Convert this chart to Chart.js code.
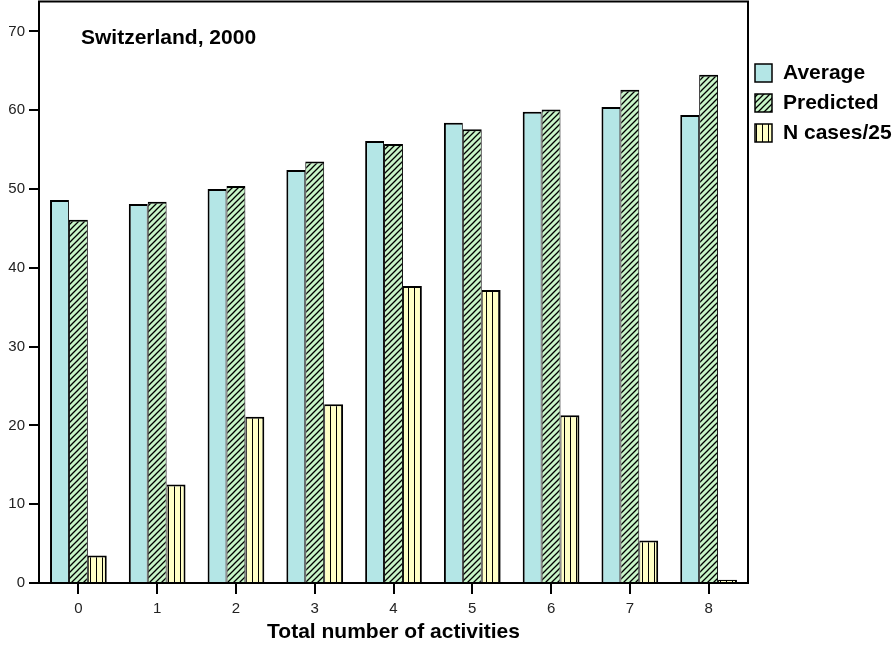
<!DOCTYPE html>
<html>
<head>
<meta charset="utf-8">
<script src="https://cdn.jsdelivr.net/npm/chart.js@4.4.0/dist/chart.umd.min.js"></script>
<style>
  html, body { margin: 0; padding: 0; background: #fff; }
</style>
</head>
<body>
<canvas id="myChart" width="895" height="646"></canvas>
<script>
// Data
const categories = ['0', '1', '2', '3', '4', '5', '6', '7', '8'];
const averageValues = [48.6, 48.1, 50.0, 52.4, 56.1, 58.4, 59.8, 60.4, 59.4];
const predictedValues = [46.1, 48.4, 50.4, 53.5, 55.7, 57.6, 60.1, 62.6, 64.5];
const casesValues = [3.5, 12.5, 21.1, 22.7, 37.7, 37.2, 21.3, 5.4, 0.4];
const yTicks = [0, 10, 20, 30, 40, 50, 60, 70];
const seriesNames = ['Average', 'Predicted', 'N cases/25'];

const FONT = "'Liberation Sans', Arial, Helvetica, sans-serif";

// Hatch patterns for the bars
function makePattern(bg, kind) {
  const c = document.createElement('canvas');
  const s = 6;
  c.width = s; c.height = s;
  const g = c.getContext('2d');
  g.fillStyle = bg;
  g.fillRect(0, 0, s, s);
  g.strokeStyle = '#000';
  g.lineWidth = 1.3;
  g.beginPath();
  if (kind === 'diag') {
    g.moveTo(0, s); g.lineTo(s, 0);
    g.moveTo(-1, 1); g.lineTo(1, -1);
    g.moveTo(s - 1, s + 1); g.lineTo(s + 1, s - 1);
  } else {
    g.lineWidth = 1;
    g.moveTo(0.5, 0); g.lineTo(0.5, s);
  }
  g.stroke();
  return g.createPattern(c, 'repeat');
}

const avgFill = '#b4e6e6';
const predFill = makePattern('#c8f5c8', 'diag');
const casesFill = makePattern('#ffffc6', 'vert');

// Frame around the plot + inside title + legend on the right
const extras = {
  id: 'extras',
  afterDraw(chart) {
    const ctx = chart.ctx;
    const a = chart.chartArea;
    ctx.save();
    ctx.strokeStyle = '#000';
    ctx.lineWidth = 2;
    ctx.strokeRect(a.left, a.top, a.right - a.left, a.bottom - a.top);

    ctx.fillStyle = '#000';
    ctx.font = 'bold 21px ' + FONT;
    ctx.textAlign = 'left';
    ctx.textBaseline = 'alphabetic';
    ctx.fillText('Switzerland, 2000', 81, 44);

    const fills = [avgFill, predFill, casesFill];
    ctx.textBaseline = 'middle';
    for (let i = 0; i < seriesNames.length; i++) {
      const y = 64 + i * 30;
      ctx.fillStyle = fills[i];
      ctx.fillRect(755, y, 17, 18);
      ctx.lineWidth = 1.5;
      ctx.strokeRect(755, y, 17, 18);
      ctx.fillStyle = '#000';
      ctx.fillText(seriesNames[i], 783, y + 9);
    }
    ctx.restore();
  }
};

const ctx = document.getElementById('myChart').getContext('2d');
const myChart = new Chart(ctx, {
  type: 'bar',
  data: {
    labels: categories,
    datasets: [
      {
        label: seriesNames[0],
        data: averageValues,
        backgroundColor: avgFill,
        borderColor: '#000',
        borderWidth: { top: 2, left: 2, right: 1, bottom: 0 }
      },
      {
        label: seriesNames[1],
        data: predictedValues,
        backgroundColor: predFill,
        borderColor: '#000',
        borderWidth: { top: 2, left: 1, right: 1, bottom: 0 }
      },
      {
        label: seriesNames[2],
        data: casesValues,
        backgroundColor: casesFill,
        borderColor: '#000',
        borderWidth: { top: 2, left: 1, right: 2, bottom: 0 }
      }
    ]
  },
  options: {
    responsive: false,
    animation: false,
    devicePixelRatio: 1,
    layout: { padding: { top: 1.5, right: 147, bottom: 0, left: 0 } },
    datasets: {
      bar: { categoryPercentage: 0.72, barPercentage: 1.0 }
    },
    plugins: {
      legend: { display: false },
      tooltip: { enabled: false }
    },
    scales: {
      x: {
        grid: {
          offset: false,
          drawOnChartArea: false,
          drawTicks: true,
          tickLength: 11,
          color: '#000',
          lineWidth: 2
        },
        border: { display: false },
        ticks: {
          color: '#222',
          font: { family: FONT, size: 15 },
          padding: 6,
          maxRotation: 0
        },
        title: {
          display: true,
          text: 'Total number of activities',
          color: '#000',
          font: { family: FONT, size: 21, weight: 'bold' },
          padding: { top: 0, bottom: 1 }
        },
        afterFit(scale) {
          scale.height = 63;
          scale.paddingLeft = 0;
          scale.paddingRight = 0;
        }
      },
      y: {
        min: 0,
        max: 73.8,
        grid: {
          drawOnChartArea: false,
          drawTicks: true,
          tickLength: 10,
          color: '#000',
          lineWidth: 2
        },
        border: { display: false },
        ticks: {
          color: '#222',
          font: { family: FONT, size: 15 },
          padding: 4
        },
        afterBuildTicks(scale) {
          scale.ticks = yTicks.map(v => ({ value: v }));
        },
        afterFit(scale) {
          scale.width = 39;
          scale.paddingTop = 0;
          scale.paddingBottom = 0;
        }
      }
    }
  },
  plugins: [extras]
});
</script>
</body>
</html>
